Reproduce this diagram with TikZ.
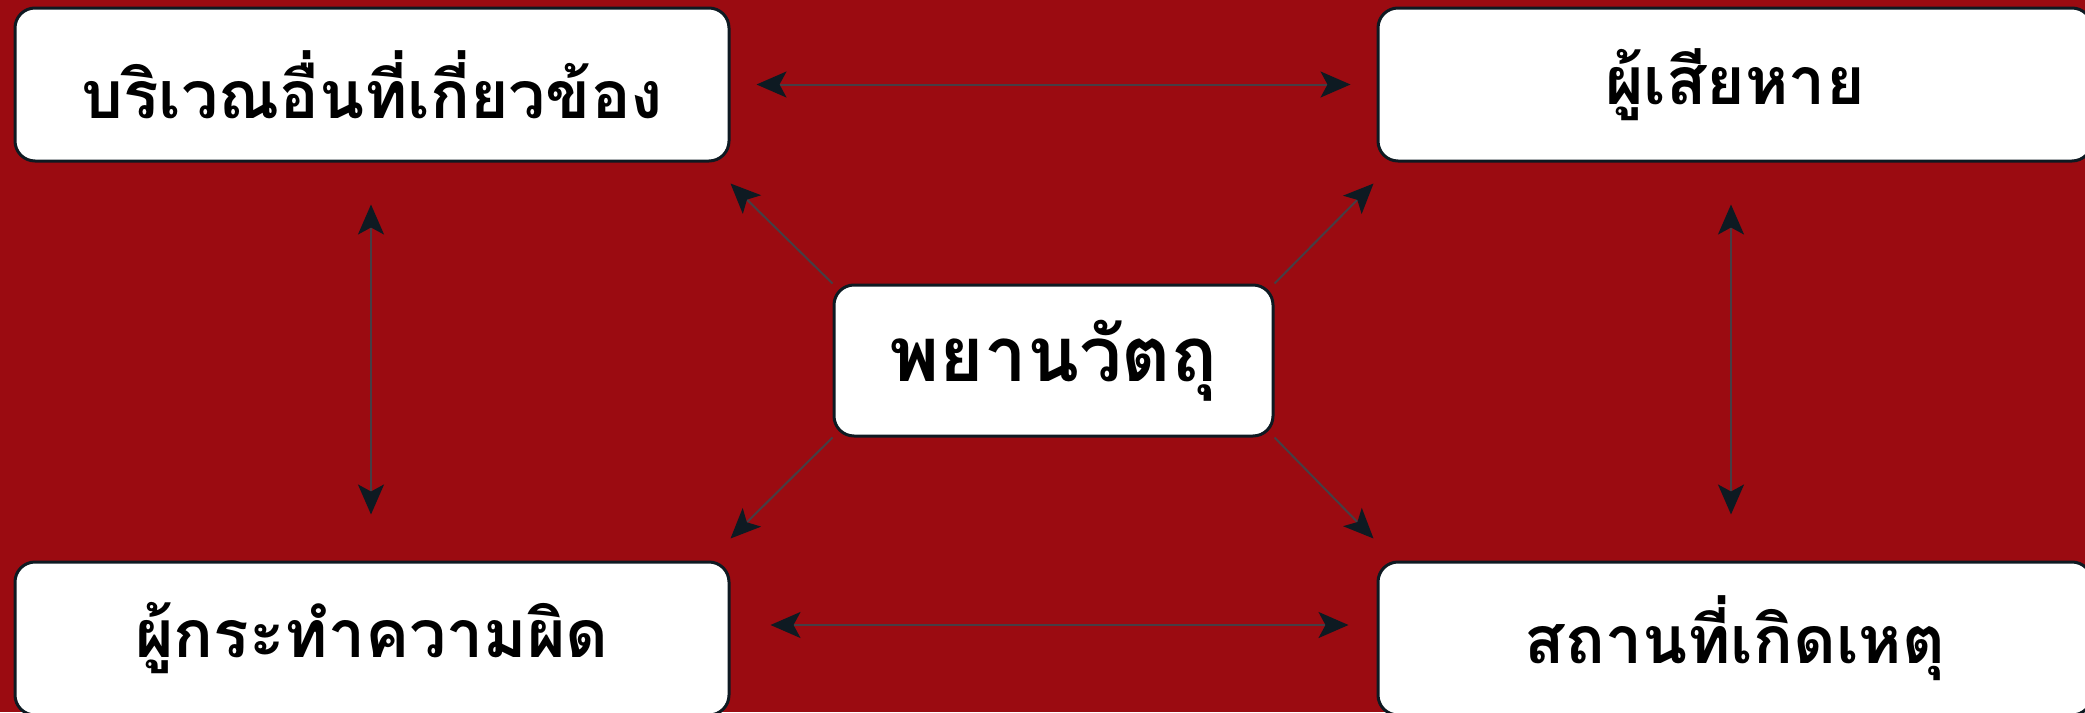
\documentclass[tikz,border=0pt]{standalone}
\usepackage{fontspec}
\usetikzlibrary{arrows.meta}
\newfontfamily\thaifont[Script=Thai]{Loma}
\definecolor{bgred}{RGB}{155,11,17}
\definecolor{edge}{RGB}{14,26,34}
\definecolor{linegray}{RGB}{70,62,68}
\begin{document}
\begin{tikzpicture}[x=1pt,y=-1pt,
  box/.style={draw=edge, line width=3pt, fill=white, rounded corners=20pt,
    minimum width=714pt, minimum height=153pt, inner sep=0pt,
    font=\thaifont\bfseries\fontsize{66}{70}\selectfont},
  cbox/.style={box, minimum width=439pt, minimum height=151pt,
    font=\thaifont\bfseries\fontsize{76}{80}\selectfont},
  conn/.style={draw=linegray, line width=2pt,
    arrows={Stealth[length=30pt,width=26pt,inset=7pt,fill=edge,color=edge]-Stealth[length=30pt,width=26pt,inset=7pt,fill=edge,color=edge]}},
  oneway/.style={draw=linegray, line width=2pt,
    -{Stealth[length=30pt,width=26pt,inset=7pt,fill=edge,color=edge]}}]
\fill[bgred] (0,0) rectangle (2085,712);
\useasboundingbox (0,0) rectangle (2085,712);
\node[box] (tl) at (372,84.5) {บริเวณอื่นที่เกี่ยวข้อง};
\node[box] (tr) at (1735,84.5) {ผู้เสียหาย};
\node[box] (bl) at (372,638.5) {ผู้กระทำความผิด};
\node[box] (br) at (1735,638.5) {สถานที่เกิดเหตุ};
\node[cbox] (c) at (1053.5,360.5) {พยานวัตถุ};
\coordinate (pul) at ([yshift=-21pt]tl.south east);
\coordinate (pur) at ([shift={(-3pt,-21pt)}]tr.south west);
\coordinate (pll) at ([yshift=22pt]bl.north east);
\coordinate (plr) at ([shift={(-3pt,22pt)}]br.north west);
\draw[conn, shorten <=26pt, shorten >=26pt] (tl.east) -- (tr.west);
\draw[conn, shorten <=40pt, shorten >=28pt] ([yshift=13.5pt]bl.east) -- ([yshift=13.5pt]br.west);
\draw[conn, shorten <=42pt, shorten >=46pt] ([xshift=-1pt]tl.south) -- ([xshift=-1pt]bl.north);
\draw[conn, shorten <=42pt, shorten >=46pt] ([xshift=-4pt]tr.south) -- ([xshift=-4pt]br.north);
\draw[oneway] (c.north west) -- (pul);
\draw[oneway] (c.north east) -- (pur);
\draw[oneway] (c.south west) -- (pll);
\draw[oneway] (c.south east) -- (plr);
\end{tikzpicture}
\end{document}
